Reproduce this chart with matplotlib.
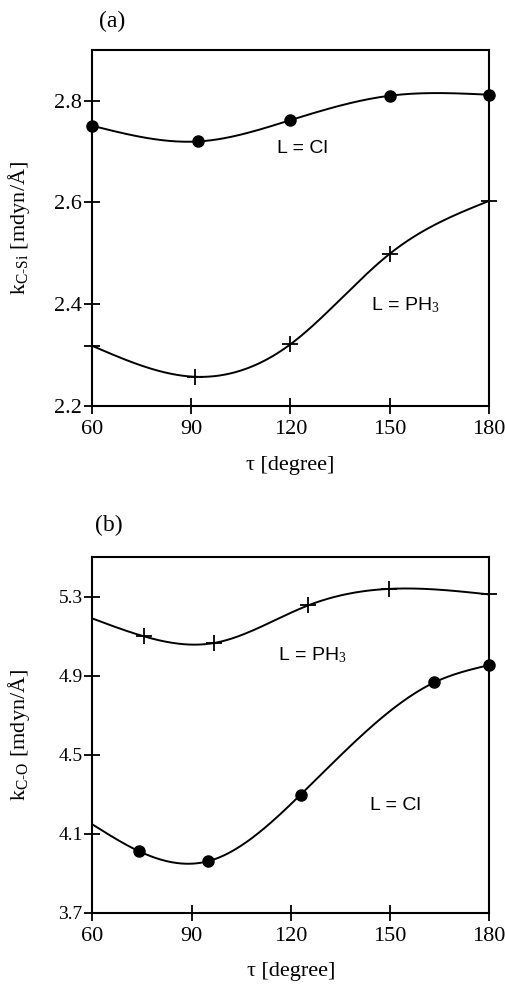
import numpy as np
import matplotlib.pyplot as plt

plt.rcParams["font.family"] = ["Liberation Serif", "DejaVu Serif"]
plt.rcParams["mathtext.fontset"] = "custom"
plt.rcParams["mathtext.rm"] = "Liberation Serif"
plt.rcParams["mathtext.it"] = "Liberation Serif:italic"

# panel (a): k(C-Si) vs tau
tau_a_cl = [60, 92, 120, 150, 180]
k_csi_cl = [2.751, 2.72, 2.762, 2.81, 2.812]
tau_a_ph3 = [60, 91, 120, 150, 180]
k_csi_ph3 = [2.318, 2.257, 2.321, 2.499, 2.603]

# panel (b): k(C-O) vs tau (first entry = curve start, no marker)
tau_b_ph3 = [60, 75.5, 96.8, 125.2, 149.6, 180]
k_co_ph3 = [5.19, 5.10, 5.066, 5.256, 5.34, 5.312]
tau_b_cl = [60, 74, 95, 123, 163.4, 180]
k_co_cl = [4.147, 4.012, 3.961, 4.298, 4.866, 4.954]

x_ticks = [60, 90, 120, 150, 180]
y_ticks_a = [2.2, 2.4, 2.6, 2.8]
y_ticks_b = [3.7, 4.1, 4.5, 4.9, 5.3]


def natural_spline(x, y, xs):
    # plain natural cubic spline through the points, for the smooth curves
    x = np.asarray(x, float)
    y = np.asarray(y, float)
    n = len(x)
    h = np.diff(x)
    A = np.zeros((n, n))
    r = np.zeros(n)
    A[0, 0] = A[-1, -1] = 1
    for i in range(1, n - 1):
        A[i, i - 1] = h[i - 1]
        A[i, i] = 2 * (h[i - 1] + h[i])
        A[i, i + 1] = h[i]
        r[i] = 3 * ((y[i + 1] - y[i]) / h[i] - (y[i] - y[i - 1]) / h[i - 1])
    c = np.linalg.solve(A, r)
    b = (np.diff(y) / h) - h * (2 * c[:-1] + c[1:]) / 3
    d = np.diff(c) / (3 * h)
    idx = np.clip(np.searchsorted(x, xs) - 1, 0, n - 2)
    dx = xs - x[idx]
    return y[idx] + b[idx] * dx + c[idx] * dx**2 + d[idx] * dx**3


def draw_curve(ax, x, y, marker, start=0):
    xs = np.linspace(x[0], x[-1], 300)
    ax.plot(xs, natural_spline(x, y, xs), color="black", lw=1.4, clip_on=False)
    if marker == "o":
        ax.plot(x[start:], y[start:], "o", color="black", ms=8, clip_on=False, zorder=3)
    else:
        ax.plot(x[start:], y[start:], "+", color="black", ms=12, mew=1.3, clip_on=False, zorder=3)


def style_axes(ax, yticks, ylim, ylabel, ytick_size):
    ax.set_xlim(60, 180)
    ax.set_ylim(*ylim)
    ax.set_xticks(x_ticks)
    ax.set_yticks(yticks)
    ax.set_yticklabels([f"{v:.1f}" for v in yticks])
    ax.tick_params(direction="inout", length=12, width=1.3, top=False, right=False)
    ax.tick_params(axis="x", labelsize=16, pad=4)
    ax.tick_params(axis="y", labelsize=ytick_size, pad=1)
    for s in ax.spines.values():
        s.set_linewidth(1.5)
    ax.set_xlabel("τ [degree]", fontsize=16)
    ax.set_ylabel(ylabel, fontsize=16)
    ax.yaxis.set_label_coords(-0.152, 0.5)
    ax.xaxis.set_label_coords(0.5, -0.14)


fig = plt.figure(figsize=(5.06, 9.92), dpi=100)
ax1 = fig.add_axes([0.1818, 0.591, 0.7846, 0.3586])
ax2 = fig.add_axes([0.1828, 0.0799, 0.7836, 0.3583])

# (a)
draw_curve(ax1, tau_a_cl, k_csi_cl, "o")
draw_curve(ax1, tau_a_ph3, k_csi_ph3, "+")
style_axes(ax1, y_ticks_a, (2.2, 2.9), r"k$_{\mathrm{C\text{-}Si}}$ [mdyn/Å]", 16)
ax1.text(123.6, 2.706, "L = Cl", family="Liberation Sans", fontsize=14, ha="center", va="center")
ax1.text(154.8, 2.398, r"L = PH$_3$", family="Liberation Sans", fontsize=14, ha="center", va="center")
ax1.text(0.05, 1.08, "(a)", transform=ax1.transAxes, fontsize=17, ha="center", va="center")

# (b)
draw_curve(ax2, tau_b_ph3, k_co_ph3, "+", start=1)
draw_curve(ax2, tau_b_cl, k_co_cl, "o", start=1)
style_axes(ax2, y_ticks_b, (3.7, 5.5), r"k$_{\mathrm{C\text{-}O}}$ [mdyn/Å]", 14)
ax2.text(126.4, 5.005, r"L = PH$_3$", family="Liberation Sans", fontsize=14, ha="center", va="center")
ax2.text(151.8, 4.244, "L = Cl", family="Liberation Sans", fontsize=14, ha="center", va="center")
ax2.text(0.04, 1.09, "(b)", transform=ax2.transAxes, fontsize=17, ha="center", va="center")

fig.savefig("out.png", dpi=100)
